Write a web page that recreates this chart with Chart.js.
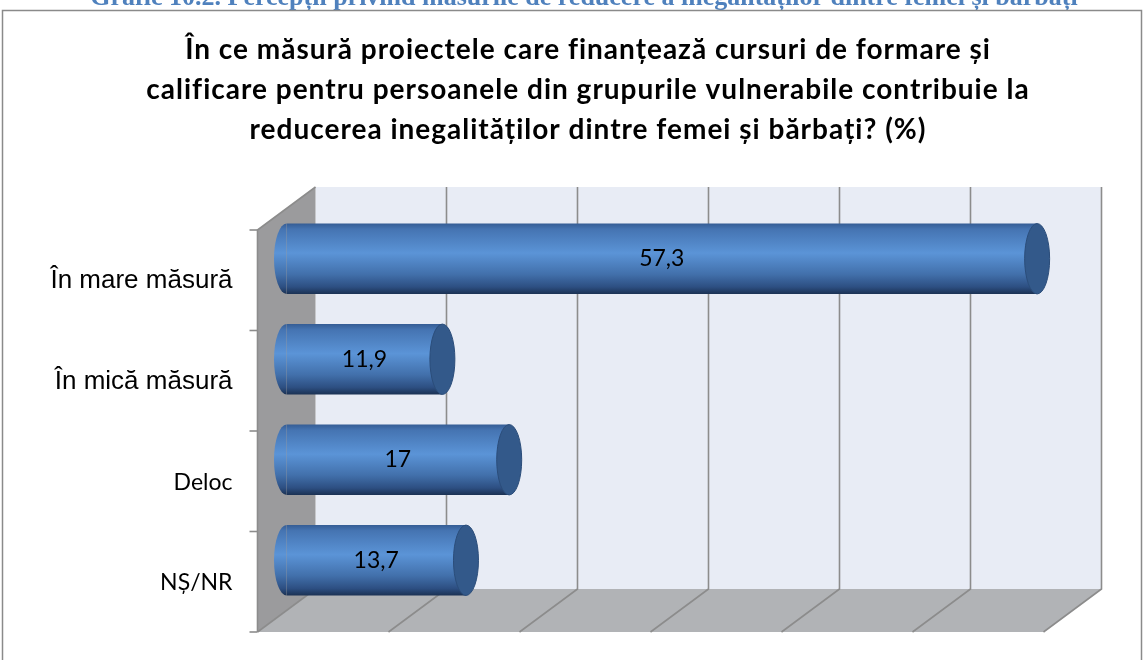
<!DOCTYPE html>
<html>
<head>
<meta charset="utf-8">
<script src="https://cdn.jsdelivr.net/npm/chart.js@4/dist/chart.umd.min.js"></script>
<style>
html,body{margin:0;padding:0;background:#fff;}
canvas{display:block;}
</style>
</head>
<body>
<canvas id="c" width="1144" height="660"></canvas>
<script>
// ---- data ----
const categories = ['În mare măsură', 'În mică măsură', 'Deloc', 'NȘ/NR'];
const values = [57.3, 11.9, 17, 13.7];
const valueLabels = ['57,3', '11,9', '17', '13,7'];
const titleLines = [
  'În ce măsură proiectele care finanțează cursuri de formare și',
  'calificare pentru persoanele din grupurile vulnerabile contribuie la',
  'reducerea inegalităților dintre femei și bărbați? (%)'
];
const captionText = 'Grafic 10.2. Percepții privind măsurile de reducere a inegalităților dintre femei și bărbați';
const axisMin = 0, axisMax = 60, axisStep = 10;

// ---- style ----
const DX = 29, DY = 21.5;           // half-depth 3D offsets
const CAP_RX = 12.5;
const labelFonts = ['26px "Liberation Sans", Arial, sans-serif', '26px "Liberation Sans", Arial, sans-serif',
                    '23px Lato, "Open Sans", sans-serif', '23px Lato, "Open Sans", sans-serif'];

function barGradient(ctx, top, bottom) {
  const g = ctx.createLinearGradient(0, top, 0, bottom);
  g.addColorStop(0, '#355d95');
  g.addColorStop(0.08, '#4574b2');
  g.addColorStop(0.42, '#5b94d7');
  g.addColorStop(0.72, '#4270ab');
  g.addColorStop(0.9, '#2d4f82');
  g.addColorStop(1, '#1b3254');
  return g;
}

const scenePlugin = {
  id: 'scene',
  beforeDraw(chart) {
    const ctx = chart.ctx;
    ctx.save();
    // caption (cut off at top)
    ctx.fillStyle = '#4f81bd';
    ctx.font = 'bold 26px "Liberation Serif", "Times New Roman", serif';
    ctx.textAlign = 'center';
    ctx.textBaseline = 'alphabetic';
    ctx.fillText(captionText, 584, 5);
    // outer frame
    ctx.strokeStyle = '#8a8a8a';
    ctx.lineWidth = 1.5;
    ctx.strokeRect(2.5, 10.5, 1139, 700);
    // title
    ctx.fillStyle = '#000';
    ctx.font = 'bold 28px Lato, "Open Sans", sans-serif';
    if ('letterSpacing' in ctx) ctx.letterSpacing = '1px';
    titleLines.forEach((t, i) => ctx.fillText(t, 588, 59 + i * 40));
    ctx.restore();
  },
  beforeDatasetsDraw(chart) {
    const ctx = chart.ctx;
    const xs = chart.scales.x;
    const a = chart.chartArea;
    const L = xs.getPixelForValue(axisMin), R = xs.getPixelForValue(axisMax);
    const T = a.top, B = a.bottom;
    ctx.save();
    // back wall
    ctx.fillStyle = '#e8ecf5';
    ctx.fillRect(L + DX, T - DY, R - L, B - T);
    // floor
    ctx.fillStyle = '#b1b3b6';
    ctx.beginPath();
    ctx.moveTo(L - DX, B + DY);
    ctx.lineTo(L + DX, B - DY);
    ctx.lineTo(R + DX, B - DY);
    ctx.lineTo(R - DX, B + DY);
    ctx.closePath();
    ctx.fill();
    // left wall
    ctx.fillStyle = '#9b9b9d';
    ctx.beginPath();
    ctx.moveTo(L - DX, T + DY);
    ctx.lineTo(L + DX, T - DY);
    ctx.lineTo(L + DX, B - DY);
    ctx.lineTo(L - DX, B + DY);
    ctx.closePath();
    ctx.fill();
    // gridlines
    ctx.strokeStyle = '#8c8c8c';
    ctx.lineWidth = 1.6;
    for (let v = axisMin; v <= axisMax; v += axisStep) {
      const x = xs.getPixelForValue(v);
      ctx.beginPath();
      if (v > axisMin) {
        ctx.moveTo(x + DX, T - DY);
        ctx.lineTo(x + DX, B - DY);
      } else {
        ctx.moveTo(x + DX, B - DY);
      }
      ctx.lineTo(x - DX, B + DY);
      ctx.stroke();
    }
    // left wall edges
    ctx.beginPath();
    ctx.moveTo(L + DX, T - DY);
    ctx.lineTo(L - DX, T + DY);
    ctx.lineTo(L - DX, B + DY);
    ctx.stroke();
    // category ticks
    const n = categories.length;
    const band = (B - T) / n;
    for (let i = 0; i <= n; i++) {
      const y = T + DY + i * band;
      ctx.beginPath();
      ctx.moveTo(L - DX - 8, y);
      ctx.lineTo(L - DX, y);
      ctx.stroke();
    }
    ctx.restore();
  },
  afterDatasetsDraw(chart) {
    const ctx = chart.ctx;
    const meta = chart.getDatasetMeta(0);
    ctx.save();
    meta.data.forEach((el, i) => {
      const h = el.height / 2;
      const top = el.y - h, bot = el.y + h;
      // back (left) rounded end
      ctx.fillStyle = barGradient(ctx, top, bot);
      ctx.beginPath();
      ctx.ellipse(el.base, el.y, CAP_RX, h, 0, Math.PI / 2, Math.PI * 1.5);
      ctx.closePath();
      ctx.fill();
      // front (right) end face
      ctx.fillStyle = '#33598a';
      ctx.strokeStyle = '#2b4d7a';
      ctx.lineWidth = 1;
      ctx.beginPath();
      ctx.ellipse(el.x, el.y, CAP_RX, h, 0, 0, Math.PI * 2);
      ctx.fill();
      ctx.stroke();
      // value label
      ctx.fillStyle = '#000';
      ctx.font = '23px Lato, "Open Sans", sans-serif';
      ctx.textAlign = 'center';
      ctx.textBaseline = 'middle';
      ctx.fillText(valueLabels[i], (el.base + el.x) / 2, el.y);
    });
    // category labels (front plane)
    const ys = chart.scales.y;
    const xs = chart.scales.x;
    const xRight = xs.getPixelForValue(axisMin) - DX - 25;
    ctx.textAlign = 'right';
    ctx.textBaseline = 'middle';
    categories.forEach((c, i) => {
      ctx.font = labelFonts[i];
      ctx.fillText(c, xRight, ys.getPixelForValue(i) + DY + 1);
    });
    ctx.restore();
  }
};

new Chart(document.getElementById('c'), {
  type: 'bar',
  data: {
    labels: categories,
    datasets: [{
      data: values,
      backgroundColor: (c) => {
        const chart = c.chart;
        const ys = chart.scales.y;
        if (!ys || !chart.chartArea) return '#4f81bd';
        const band = (chart.chartArea.bottom - chart.chartArea.top) / categories.length;
        const cy = ys.getPixelForValue(c.dataIndex);
        const h = band * 0.7 / 2;
        return barGradient(chart.ctx, cy - h, cy + h);
      },
      borderWidth: 0,
      barPercentage: 0.7,
      categoryPercentage: 1
    }]
  },
  options: {
    indexAxis: 'y',
    responsive: false,
    animation: false,
    layout: { padding: { left: 286.5, right: 71.5, top: 208.5, bottom: 49.5 } },
    scales: {
      x: { type: 'linear', min: axisMin, max: axisMax, display: false, ticks: { stepSize: axisStep } },
      y: { display: false }
    },
    plugins: { legend: { display: false }, tooltip: { enabled: false }, title: { display: false } }
  },
  plugins: [scenePlugin]
});
</script>
</body>
</html>
